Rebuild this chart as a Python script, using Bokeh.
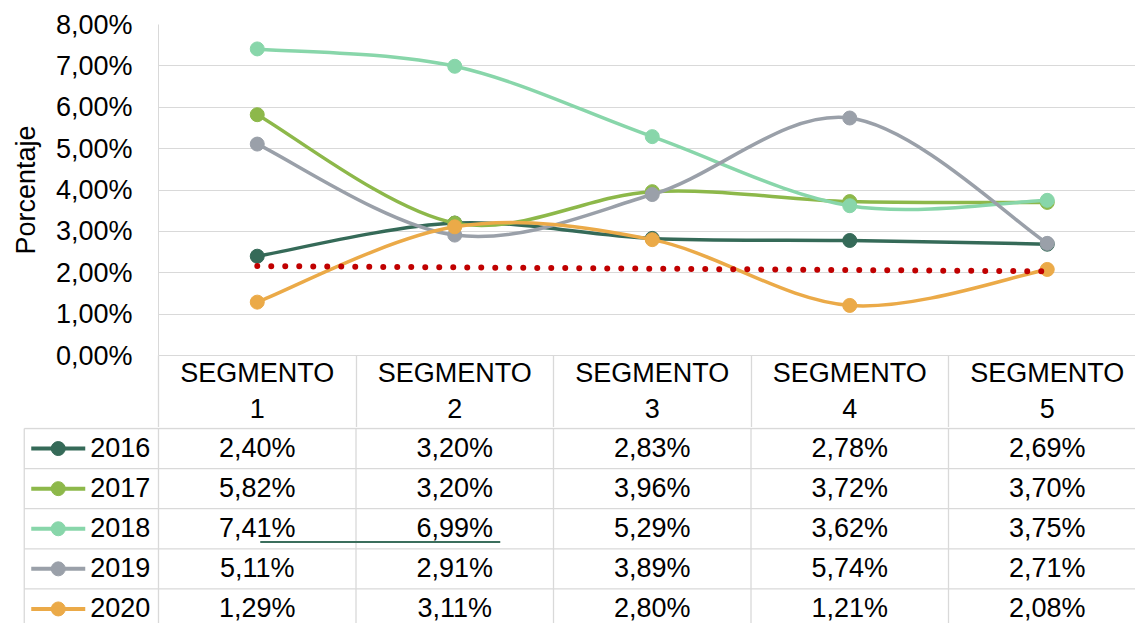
import numpy as np
from bokeh.plotting import figure
from bokeh.layouts import column
from bokeh.models import Range1d, FixedTicker
from bokeh.core.properties import value
from bokeh.embed import file_html
from bokeh.resources import INLINE

# ---------------- data ----------------
segments = ["SEGMENTO\n1", "SEGMENTO\n2", "SEGMENTO\n3", "SEGMENTO\n4", "SEGMENTO\n5"]
years = ["2016", "2017", "2018", "2019", "2020"]
v2016 = [2.40, 3.20, 2.83, 2.78, 2.69]
v2017 = [5.82, 3.20, 3.96, 3.72, 3.70]
v2018 = [7.41, 6.99, 5.29, 3.62, 3.75]
v2019 = [5.11, 2.91, 3.89, 5.74, 2.71]
v2020 = [1.29, 3.11, 2.80, 1.21, 2.08]
y_ticks = [0, 1, 2, 3, 4, 5, 6, 7, 8]
y_tick_labels = ["0,00%", "1,00%", "2,00%", "3,00%", "4,00%", "5,00%", "6,00%", "7,00%", "8,00%"]

series = [v2016, v2017, v2018, v2019, v2020]
colors = ["#356a58", "#8db84a", "#88d6aa", "#9aa0a9", "#ebaa48"]

FONT = "Liberation Sans"
FS = "27px"
GRID = "#d9d9d9"

W = 1135
PX_PER_X = 197.5
FRAME_LEFT = 158
X0 = 0.5
X_END = X0 + (W - FRAME_LEFT) / PX_PER_X
X_START_FULL = X0 - FRAME_LEFT / PX_PER_X

def px_to_x(px_page):
    # page x -> data x (category 1 at page x 256)
    return 1 + (px_page - 256) / PX_PER_X

xs = [1, 2, 3, 4, 5]

# ---------------- top chart ----------------
TOP_H = 427
BOT_PANEL = TOP_H - 355
p = figure(width=W, height=TOP_H, x_range=Range1d(X0, X_END), y_range=Range1d(0, 8),
           min_border_left=FRAME_LEFT, min_border_right=0, min_border_top=24,
           min_border_bottom=BOT_PANEL,
           output_backend="svg", toolbar_location=None)
p.frame_align = False
p.outline_line_color = None
p.background_fill_color = "white"
p.border_fill_color = "white"
p.xgrid.visible = False
p.ygrid.grid_line_color = GRID
p.ygrid.grid_line_width = 1

p.yaxis.ticker = FixedTicker(ticks=y_ticks)
p.yaxis.major_label_overrides = {t: l for t, l in zip(y_ticks, y_tick_labels)}
p.yaxis.major_tick_out = 0
p.yaxis.major_tick_in = 0
p.yaxis.minor_tick_out = 0
p.yaxis.minor_tick_in = 0
p.yaxis.axis_line_color = GRID
p.yaxis.major_label_standoff = 26
p.yaxis.major_label_text_font = FONT
p.yaxis.major_label_text_font_size = FS
p.yaxis.major_label_text_color = "black"
p.yaxis.axis_label = "Porcentaje"
p.yaxis.axis_label_text_font = FONT
p.yaxis.axis_label_text_font_size = FS
p.yaxis.axis_label_text_font_style = "normal"
p.yaxis.axis_label_text_color = "black"
p.yaxis.axis_label_standoff = 12

# category header row: axis labels plus cell borders drawn as minor ticks
p.xaxis.ticker = FixedTicker(ticks=xs, minor_ticks=[0.5, 1.5, 2.5, 3.5, 4.5, 5.5])
p.xaxis.major_label_overrides = {x: s for x, s in zip(xs, segments)}
p.xaxis.major_tick_out = 0
p.xaxis.major_tick_in = 0
p.xaxis.minor_tick_in = 0
p.xaxis.minor_tick_out = BOT_PANEL
p.xaxis.minor_tick_line_color = GRID
p.xaxis.minor_tick_line_width = 1.3
p.xaxis.axis_line_color = GRID
p.xaxis.major_label_standoff = 2 - BOT_PANEL
p.xaxis.major_label_text_font = FONT
p.xaxis.major_label_text_font_size = FS
p.xaxis.major_label_text_color = "black"

def bezier_segments(xv, yv):
    P = np.array(list(zip(xv, yv)), dtype=float)
    n = len(P)
    out = {k: [] for k in ["x0", "y0", "x1", "y1", "cx0", "cy0", "cx1", "cy1"]}
    for i in range(n - 1):
        p0 = P[i - 1] if i > 0 else P[i]
        p1 = P[i]
        p2 = P[i + 1]
        p3 = P[i + 2] if i + 2 < n else P[i + 1]
        c1 = p1 + (p2 - p0) / 6.0
        c2 = p2 - (p3 - p1) / 6.0
        out["x0"].append(p1[0]); out["y0"].append(p1[1])
        out["x1"].append(p2[0]); out["y1"].append(p2[1])
        out["cx0"].append(c1[0]); out["cy0"].append(c1[1])
        out["cx1"].append(c2[0]); out["cy1"].append(c2[1])
    return out

for vals, col in zip(series, colors):
    b = bezier_segments(xs, vals)
    p.bezier(x0=b["x0"], y0=b["y0"], x1=b["x1"], y1=b["y1"],
             cx0=b["cx0"], cy0=b["cy0"], cx1=b["cx1"], cy1=b["cy1"],
             line_color=col, line_width=3.5)
    p.scatter(xs, vals, size=14, fill_color=col, line_color=col)

# linear trendline of 2020
slope, intercept = np.polyfit(xs, v2020, 1)
tx = [xs[0], xs[-1]]
ty = [intercept + slope * xs[0], intercept + slope * xs[-1]]
p.line(tx, ty, line_color="#c00000", line_width=6, line_dash="0 14", line_cap="round")

# ---------------- data table ----------------
ROW_H = 40.1
H2 = 623 - TOP_H
top_y = -0.5 - 1 / ROW_H
t = figure(width=W, height=H2, x_range=Range1d(X_START_FULL, X_END),
           y_range=Range1d(top_y + H2 / ROW_H, top_y),
           x_axis_location=None, y_axis_location=None,
           min_border_left=0, min_border_right=0, min_border_top=0, min_border_bottom=0,
           output_backend="svg", toolbar_location=None)
t.frame_align = False
t.grid.visible = False
t.outline_line_color = None
t.background_fill_color = "white"
t.border_fill_color = "white"

left_x = px_to_x(23)
bottom_y = top_y + H2 / ROW_H + 1
# horizontal borders
hy = [-0.5, 0.5, 1.5, 2.5, 3.5, 4.5]
t.segment(x0=[left_x] * len(hy), y0=hy, x1=[X_END + 1] * len(hy), y1=hy,
          line_color=GRID, line_width=1.3)
# vertical borders
vx = [left_x, 0.5, 1.5, 2.5, 3.5, 4.5]
t.segment(x0=vx, y0=[-0.5] * len(vx), x1=vx, y1=[bottom_y] * len(vx),
          line_color=GRID, line_width=1.3)

rows = list(range(len(years)))
# legend keys
t.segment(x0=[px_to_x(30)] * 5, y0=rows, x1=[px_to_x(84)] * 5, y1=rows,
          line_color=colors, line_width=4)
t.scatter([px_to_x(57)] * 5, rows, size=14, fill_color=colors, line_color=colors)
t.text([px_to_x(89)] * 5, rows, text=years, text_font=value(FONT), text_font_size=FS,
       text_baseline="middle", text_align="left", text_color="black", y_offset=-1)

# values
for r, vals in enumerate(series):
    labels = [("%.2f" % v).replace(".", ",") + "%" for v in vals]
    t.text(xs, [r] * 5, text=labels, text_font=value(FONT), text_font_size=FS,
           text_baseline="middle", text_align="center", text_color="black", y_offset=-1)

# stray connector line present in the original
t.segment(x0=[px_to_x(259)], y0=[2.33], x1=[px_to_x(499)], y1=[2.33],
          line_color="#3a6e5c", line_width=2)

layout = column(p, t, spacing=0)
open("out.html", "w").write(file_html(layout, INLINE))
